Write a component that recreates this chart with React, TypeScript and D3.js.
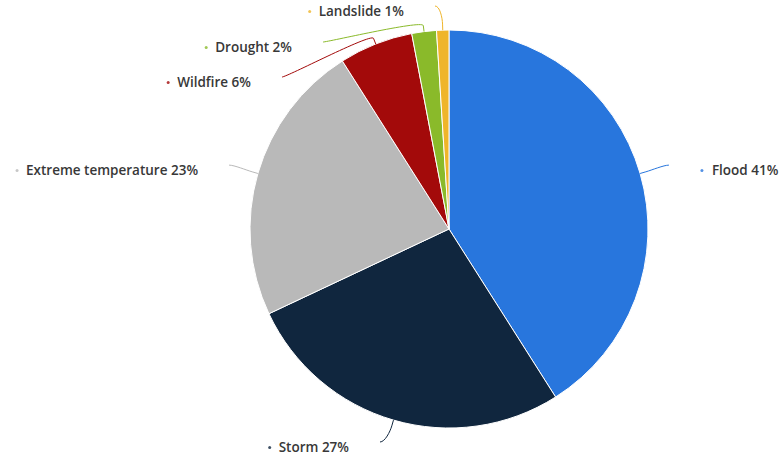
import React from "react";
import * as d3 from "d3";

const categories = ["Flood", "Storm", "Extreme temperature", "Wildfire", "Drought", "Landslide"];
const shares = [41, 27, 23, 6, 2, 1];
const colors = ["#2876dd", "#10263e", "#b9b9b9", "#a30a0a", "#8aba2a", "#efb52a"];

// layout: label anchor overrides for labels moved by the label distributor
const labelAnchorOverride: Record<string, [number, number]> = {
  Storm: [380, 442],
  Wildfire: [282, 77],
  Drought: [323, 42],
  Landslide: [435, 6],
};

const W = 782;
const H = 456;
const CX = 449;
const CY = 229;
const R = 199;
const LABEL_DIST = 30;
const BREAK_OFF = 6;
const FONT = "'Open Sans', sans-serif";
const FONT_SIZE = 13.5;

export default function App() {
  const data = categories.map((c, i) => ({ name: c, value: shares[i], color: colors[i] }));
  const pie = d3.pie<any>().value((d) => d.value).sort(null);
  const arcs = pie(data);
  const arcGen = d3.arc<any>().innerRadius(0).outerRadius(R);

  return (
    <svg width={W} height={H} style={{ position: "absolute", left: 0, top: 0 }}>
      <rect width={W} height={H} fill="#fff" />
      <g transform={`translate(${CX},${CY})`}>
        {arcs.map((a, i) => (
          <path key={i} d={arcGen(a) as string} fill={a.data.color} stroke="#fff" strokeWidth={1} strokeLinejoin="round" />
        ))}
      </g>
      {arcs.map((a, i) => {
        const mid = (a.startAngle + a.endAngle) / 2;
        const sx = Math.sin(mid);
        const sy = -Math.cos(mid);
        const left = sx < 0;
        const tx = CX + sx * R;
        const ty = CY + sy * R;
        const bx = CX + sx * (R + BREAK_OFF);
        const by = CY + sy * (R + BREAK_OFF);
        const ov = labelAnchorOverride[a.data.name];
        const lx = ov ? ov[0] : CX + sx * (R + LABEL_DIST);
        const ly = ov ? ov[1] : CY + sy * (R + LABEL_DIST);
        const path = `M${lx},${ly} C${lx + (left ? 5 : -5)},${ly} ${2 * bx - tx},${2 * by - ty} ${bx},${by} L${tx},${ty}`;
        const label = `${a.data.name} ${a.data.value}%`;
        const textY = ly + 5.5;
        return (
          <g key={i}>
            <path d={path} fill="none" stroke={a.data.color} strokeWidth={1} />
            <text
              x={left ? lx - 31 : lx + 43}
              y={textY}
              dy="0.35em"
              textAnchor={left ? "end" : "start"}
              fontFamily={FONT}
              fontWeight={600}
              fontSize={FONT_SIZE}
              fill="#383838"
            >
              {label}
            </text>
            {left ? (
              <DotBeforeText label={label} xEnd={lx - 31} y={textY} color={a.data.color} />
            ) : (
              <circle cx={lx + 33} cy={textY} r={1.5} fill={a.data.color} opacity={0.8} />
            )}
          </g>
        );
      })}
    </svg>
  );
}

function DotBeforeText({ label, xEnd, y, color }: { label: string; xEnd: number; y: number; color: string }) {
  const ref = React.useRef<SVGTextElement>(null);
  const [w, setW] = React.useState(0);
  React.useLayoutEffect(() => {
    if (ref.current) setW(ref.current.getComputedTextLength());
  }, [label]);
  return (
    <g>
      <text
        ref={ref}
        x={-1000}
        y={-1000}
        fontFamily={FONT}
        fontWeight={600}
        fontSize={FONT_SIZE}
        visibility="hidden"
      >
        {label}
      </text>
      {w > 0 && <circle cx={xEnd - w - 9} cy={y} r={1.5} fill={color} opacity={0.8} />}
    </g>
  );
}
